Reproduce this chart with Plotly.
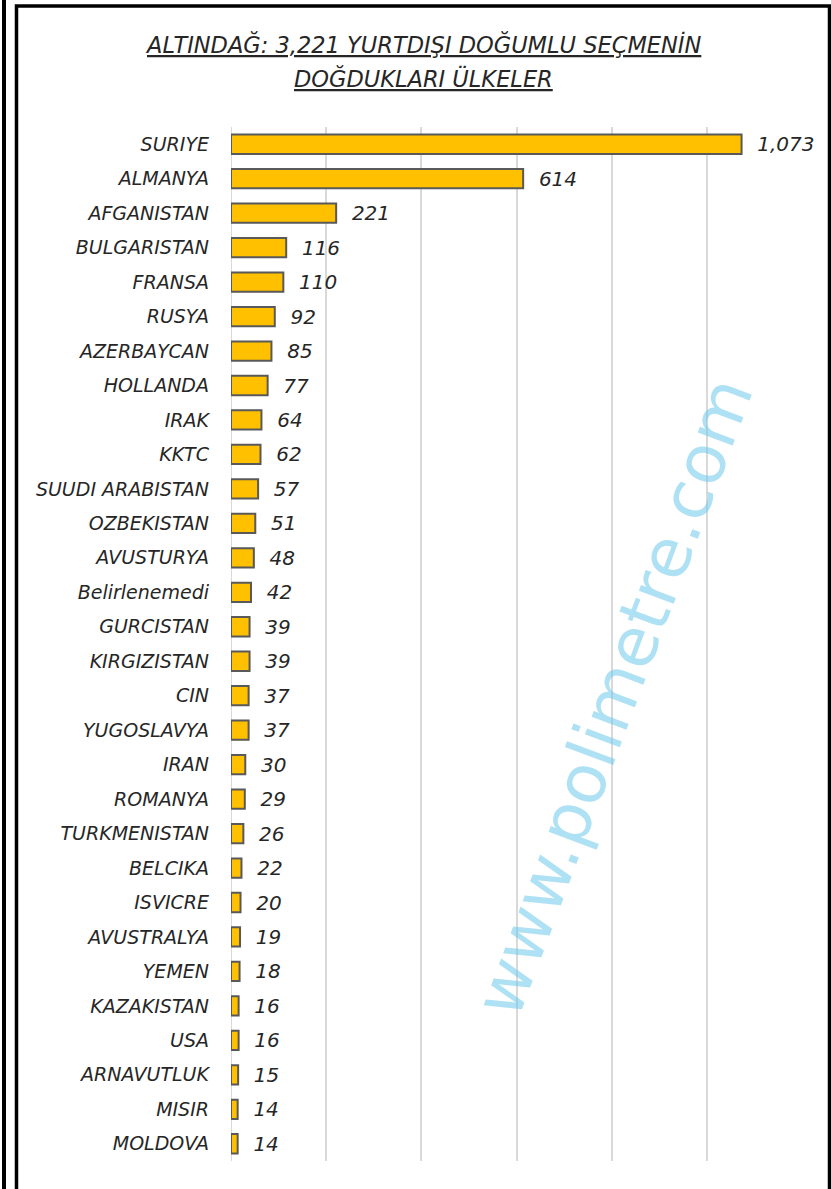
import plotly.graph_objects as go

countries = ["SURIYE", "ALMANYA", "AFGANISTAN", "BULGARISTAN", "FRANSA", "RUSYA",
             "AZERBAYCAN", "HOLLANDA", "IRAK", "KKTC", "SUUDI ARABISTAN", "OZBEKISTAN",
             "AVUSTURYA", "Belirlenemedi", "GURCISTAN", "KIRGIZISTAN", "CIN", "YUGOSLAVYA",
             "IRAN", "ROMANYA", "TURKMENISTAN", "BELCIKA", "ISVICRE", "AVUSTRALYA",
             "YEMEN", "KAZAKISTAN", "USA", "ARNAVUTLUK", "MISIR", "MOLDOVA"]
voters = [1073, 614, 221, 116, 110, 92, 85, 77, 64, 62, 57, 51, 48, 42, 39, 39, 37, 37,
          30, 29, 26, 22, 20, 19, 18, 16, 16, 15, 14, 14]

title_lines = ["ALTINDAĞ: 3,221 YURTDIŞI DOĞUMLU SEÇMENİN", "DOĞDUKLARI ÜLKELER"]
watermark = "www.polimetre.com"

W, H = 831, 1189
L, R, T, B = 231, 802, 127, 1161
FONT = "DejaVu Sans"
TXT = "#262626"

def px_x(p):
    return (p - L) / (R - L)

def px_y(p):
    return (B - p) / (B - T)

fig = go.Figure(go.Bar(
    x=voters, y=countries, orientation="h",
    marker=dict(color="#FFC000", line=dict(color="#595959", width=2)),
    text=voters, texttemplate="  %{x:,}", textposition="outside", cliponaxis=False,
    constraintext="none",
    textfont=dict(family=FONT, size=20, color=TXT, style="italic"),
    width=0.56,
))

fig.update_layout(
    width=W, height=H,
    margin=dict(l=L, r=W - R, t=T, b=H - B, autoexpand=False),
    paper_bgcolor="white", plot_bgcolor="white",
    showlegend=False,
    xaxis=dict(range=[0, 1200], dtick=200, showgrid=True, gridcolor="#D9D9D9",
               gridwidth=2, showticklabels=False, zeroline=False, showline=False,
               fixedrange=True, automargin=False),
    yaxis=dict(autorange="reversed", showgrid=False, ticks="", ticklabelstandoff=21,
               tickfont=dict(family=FONT, size=19, color=TXT, style="italic"),
               showline=False, automargin=False),
)

# title (two underlined lines)
for txt, py in zip(title_lines, [45, 78]):
    fig.add_annotation(text=txt, xref="paper", yref="paper", x=px_x(423), y=px_y(py),
                       xanchor="center", yanchor="middle", showarrow=False,
                       font=dict(family=FONT, size=22.5, color=TXT, style="italic",
                                 lineposition="under"))

# zero line (gray like gridlines)
fig.add_shape(type="line", xref="x", yref="paper", x0=0, x1=0, y0=0, y1=1,
              line=dict(color="#D9D9D9", width=2), layer="below")

# outer decorations: left black bar and frame
fig.add_shape(type="line", xref="paper", yref="paper",
              x0=px_x(4), x1=px_x(4), y0=px_y(-5), y1=px_y(1195),
              line=dict(color="black", width=4))
fig.add_shape(type="rect", xref="paper", yref="paper",
              x0=px_x(16.5), x1=px_x(829.5), y0=px_y(6), y1=px_y(1200),
              line=dict(color="black", width=3.5))

fig.add_annotation(text=watermark, xref="paper", yref="paper",
                   x=px_x(613), y=px_y(697), xanchor="center", yanchor="middle",
                   showarrow=False, textangle=-69.5,
                   font=dict(family=FONT, size=68, color="rgba(110,200,235,0.55)"))

fig.write_html("out.html", config={"displayModeBar": False},
               post_script="document.body.style.margin='0';document.body.style.padding='0';")
